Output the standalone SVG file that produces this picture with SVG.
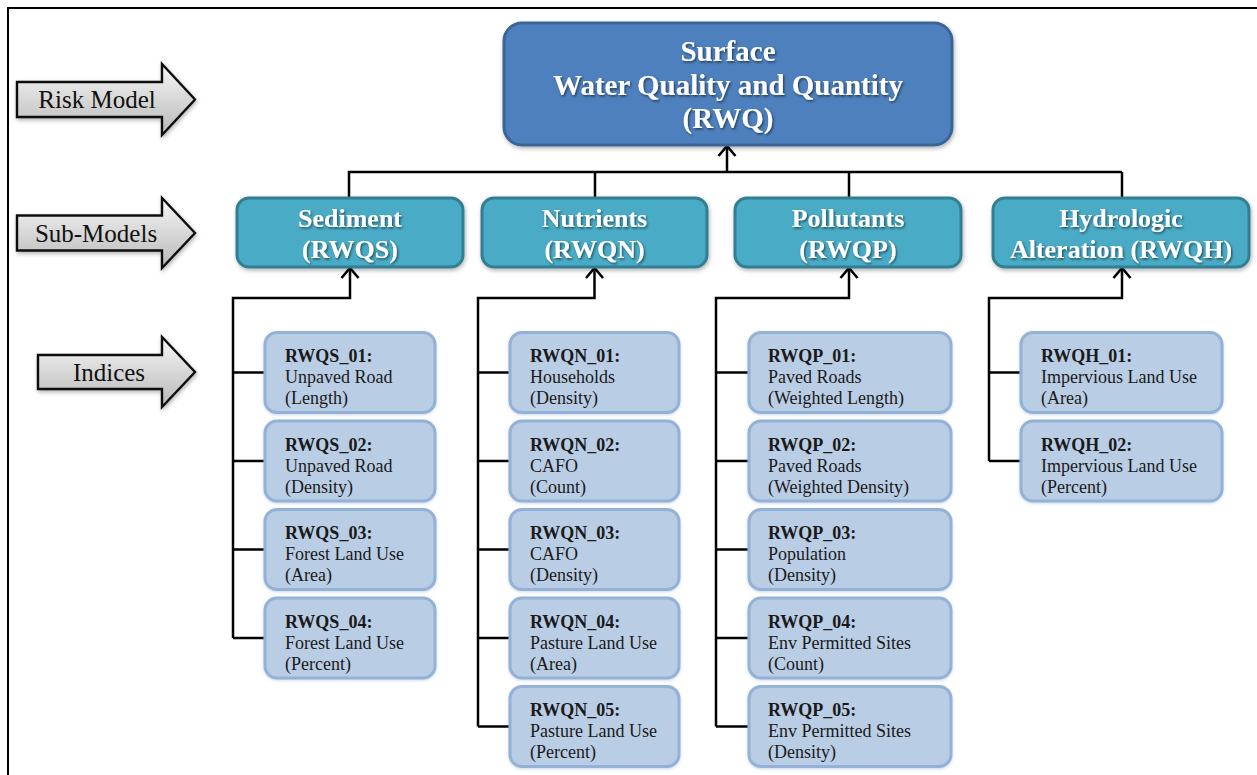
<svg xmlns="http://www.w3.org/2000/svg" width="1257" height="775" viewBox="0 0 1257 775">
<defs>
<linearGradient id="gArrow" x1="0" y1="0" x2="0" y2="1">
<stop offset="0" stop-color="#f7f7f7"/>
<stop offset="1" stop-color="#b8b8b8"/>
</linearGradient>
<filter id="fTxt" x="-10%" y="-30%" width="120%" height="160%">
<feDropShadow dx="1.2" dy="1.5" stdDeviation="0.8" flood-color="#000" flood-opacity="0.55"/>
</filter>
<filter id="fBox" x="-10%" y="-20%" width="120%" height="140%">
<feDropShadow dx="1" dy="2" stdDeviation="2" flood-color="#000" flood-opacity="0.3"/>
</filter>
<filter id="fIdx" x="-10%" y="-20%" width="120%" height="140%">
<feDropShadow dx="0" dy="1" stdDeviation="1.5" flood-color="#6a8cb8" flood-opacity="0.35"/>
</filter>
<marker id="mArr" markerUnits="userSpaceOnUse" markerWidth="13" markerHeight="20" viewBox="0 0 13 20" refX="11" refY="10" orient="auto">
<path d="M1,1.5 L11,10 L1,18.5" fill="none" stroke="#000" stroke-width="2.6"/>
</marker>
</defs>
<style>
.frame{fill:none;stroke:#000;stroke-width:2}
.lbl{fill:url(#gArrow);stroke:#111;stroke-width:2.4;stroke-linejoin:miter;filter:url(#fBox)}
.lblt{font-family:"Liberation Serif","Times New Roman",serif;font-size:25px;fill:#111;text-anchor:middle}
.top{fill:#4d80bd;stroke:#3a6597;stroke-width:3;filter:url(#fBox)}
.sub{fill:#4aabc5;stroke:#327f93;stroke-width:3;filter:url(#fBox)}
.wt{font-family:"Liberation Serif","Times New Roman",serif;font-weight:bold;fill:#fff;text-anchor:middle;filter:url(#fTxt)}
.idx{fill:#b9cde5;stroke:#94b2d8;stroke-width:3;filter:url(#fIdx)}
.it{font-family:"Liberation Serif","Times New Roman",serif;font-size:18px;fill:#1a1a1a}
.it .b{font-weight:bold}
.con{fill:none;stroke:#000;stroke-width:2.5}
</style>

<path class="frame" d="M8,775 L8,8 L1257,8"/>

<g id="label-risk-model">
<path class="lbl" d="M17,82 L162,82 L162,64 L195,99.5 L162,135 L162,117 L17,117 Z"/>
<text class="lblt" x="97" y="108">Risk Model</text>
</g>
<g id="label-sub-models">
<path class="lbl" d="M17,215.5 L162,215.5 L162,198 L195,233 L162,268 L162,250.5 L17,250.5 Z"/>
<text class="lblt" x="96" y="242">Sub-Models</text>
</g>
<g id="label-indices">
<path class="lbl" d="M38,355 L162,355 L162,337 L195,372 L162,407 L162,389 L38,389 Z"/>
<text class="lblt" x="109" y="381">Indices</text>
</g>

<g id="connectors">
<path class="con" d="M349,198 L349,172 L1122,172 M595,198 L595,172 M849,198 L849,172 M1122,198 L1122,172"/>
<path class="con" d="M727,172 L727,146" marker-end="url(#mArr)"/>
<path class="con" d="M233,638 L233,298 L350,298 L350,268" marker-end="url(#mArr)"/>
<path class="con" d="M233,372.5 L265,372.5 M233,461 L265,461 M233,549.5 L265,549.5 M233,638 L265,638"/>
<path class="con" d="M478,726.5 L478,298 L594.5,298 L594.5,268" marker-end="url(#mArr)"/>
<path class="con" d="M478,372.5 L510,372.5 M478,461 L510,461 M478,549.5 L510,549.5 M478,638 L510,638 M478,726.5 L510,726.5"/>
<path class="con" d="M716,726.5 L716,298 L849,298 L849,268" marker-end="url(#mArr)"/>
<path class="con" d="M716,372.5 L749,372.5 M716,461 L749,461 M716,549.5 L749,549.5 M716,638 L749,638 M716,726.5 L749,726.5"/>
<path class="con" d="M989,461 L989,298 L1122,298 L1122,268" marker-end="url(#mArr)"/>
<path class="con" d="M989,372.5 L1021,372.5 M989,461 L1021,461"/>
</g>

<g id="node-rwq">
<rect class="top" x="504" y="23" width="448" height="122" rx="18"/>
<text class="wt" font-size="29" x="728" y="61">Surface</text>
<text class="wt" font-size="29" x="728" y="95">Water Quality and Quantity</text>
<text class="wt" font-size="29" x="728" y="128">(RWQ)</text>
</g>

<g id="node-rwqs">
<rect class="sub" x="237" y="198" width="226" height="69" rx="12"/>
<text class="wt" font-size="26" x="350" y="227">Sediment</text>
<text class="wt" font-size="26" x="350" y="258">(RWQS)</text>
</g>
<g id="node-rwqn">
<rect class="sub" x="482" y="198" width="225" height="69" rx="12"/>
<text class="wt" font-size="26" x="594.5" y="227">Nutrients</text>
<text class="wt" font-size="26" x="594.5" y="258">(RWQN)</text>
</g>
<g id="node-rwqp">
<rect class="sub" x="735" y="198" width="226" height="69" rx="12"/>
<text class="wt" font-size="26" x="848" y="227">Pollutants</text>
<text class="wt" font-size="26" x="848" y="258">(RWQP)</text>
</g>
<g id="node-rwqh">
<rect class="sub" x="993" y="198" width="256" height="69" rx="12"/>
<text class="wt" font-size="26" x="1121" y="227">Hydrologic</text>
<text class="wt" font-size="26" x="1121" y="258">Alteration (RWQH)</text>
</g>

<g id="node-rwqs-01"><rect class="idx" x="265" y="332.5" width="170" height="80" rx="12"/>
<text class="it" x="285" y="362"><tspan class="b">RWQS_01:</tspan><tspan x="285" dy="21">Unpaved Road</tspan><tspan x="285" dy="21">(Length)</tspan></text></g>
<g id="node-rwqs-02"><rect class="idx" x="265" y="421" width="170" height="80" rx="12"/>
<text class="it" x="285" y="450.5"><tspan class="b">RWQS_02:</tspan><tspan x="285" dy="21">Unpaved Road</tspan><tspan x="285" dy="21">(Density)</tspan></text></g>
<g id="node-rwqs-03"><rect class="idx" x="265" y="509.5" width="170" height="80" rx="12"/>
<text class="it" x="285" y="539"><tspan class="b">RWQS_03:</tspan><tspan x="285" dy="21">Forest Land Use</tspan><tspan x="285" dy="21">(Area)</tspan></text></g>
<g id="node-rwqs-04"><rect class="idx" x="265" y="598" width="170" height="80" rx="12"/>
<text class="it" x="285" y="627.5"><tspan class="b">RWQS_04:</tspan><tspan x="285" dy="21">Forest Land Use</tspan><tspan x="285" dy="21">(Percent)</tspan></text></g>

<g id="node-rwqn-01"><rect class="idx" x="510" y="332.5" width="169" height="80" rx="12"/>
<text class="it" x="530" y="362"><tspan class="b">RWQN_01:</tspan><tspan x="530" dy="21">Households</tspan><tspan x="530" dy="21">(Density)</tspan></text></g>
<g id="node-rwqn-02"><rect class="idx" x="510" y="421" width="169" height="80" rx="12"/>
<text class="it" x="530" y="450.5"><tspan class="b">RWQN_02:</tspan><tspan x="530" dy="21">CAFO</tspan><tspan x="530" dy="21">(Count)</tspan></text></g>
<g id="node-rwqn-03"><rect class="idx" x="510" y="509.5" width="169" height="80" rx="12"/>
<text class="it" x="530" y="539"><tspan class="b">RWQN_03:</tspan><tspan x="530" dy="21">CAFO</tspan><tspan x="530" dy="21">(Density)</tspan></text></g>
<g id="node-rwqn-04"><rect class="idx" x="510" y="598" width="169" height="80" rx="12"/>
<text class="it" x="530" y="627.5"><tspan class="b">RWQN_04:</tspan><tspan x="530" dy="21">Pasture Land Use</tspan><tspan x="530" dy="21">(Area)</tspan></text></g>
<g id="node-rwqn-05"><rect class="idx" x="510" y="686.5" width="169" height="80" rx="12"/>
<text class="it" x="530" y="716"><tspan class="b">RWQN_05:</tspan><tspan x="530" dy="21">Pasture Land Use</tspan><tspan x="530" dy="21">(Percent)</tspan></text></g>

<g id="node-rwqp-01"><rect class="idx" x="749" y="332.5" width="202" height="80" rx="12"/>
<text class="it" x="768" y="362"><tspan class="b">RWQP_01:</tspan><tspan x="768" dy="21">Paved Roads</tspan><tspan x="768" dy="21">(Weighted Length)</tspan></text></g>
<g id="node-rwqp-02"><rect class="idx" x="749" y="421" width="202" height="80" rx="12"/>
<text class="it" x="768" y="450.5"><tspan class="b">RWQP_02:</tspan><tspan x="768" dy="21">Paved Roads</tspan><tspan x="768" dy="21">(Weighted Density)</tspan></text></g>
<g id="node-rwqp-03"><rect class="idx" x="749" y="509.5" width="202" height="80" rx="12"/>
<text class="it" x="768" y="539"><tspan class="b">RWQP_03:</tspan><tspan x="768" dy="21">Population</tspan><tspan x="768" dy="21">(Density)</tspan></text></g>
<g id="node-rwqp-04"><rect class="idx" x="749" y="598" width="202" height="80" rx="12"/>
<text class="it" x="768" y="627.5"><tspan class="b">RWQP_04:</tspan><tspan x="768" dy="21">Env Permitted Sites</tspan><tspan x="768" dy="21">(Count)</tspan></text></g>
<g id="node-rwqp-05"><rect class="idx" x="749" y="686.5" width="202" height="80" rx="12"/>
<text class="it" x="768" y="716"><tspan class="b">RWQP_05:</tspan><tspan x="768" dy="21">Env Permitted Sites</tspan><tspan x="768" dy="21">(Density)</tspan></text></g>

<g id="node-rwqh-01"><rect class="idx" x="1021" y="332.5" width="201" height="80" rx="12"/>
<text class="it" x="1041" y="362"><tspan class="b">RWQH_01:</tspan><tspan x="1041" dy="21">Impervious Land Use</tspan><tspan x="1041" dy="21">(Area)</tspan></text></g>
<g id="node-rwqh-02"><rect class="idx" x="1021" y="421" width="201" height="80" rx="12"/>
<text class="it" x="1041" y="450.5"><tspan class="b">RWQH_02:</tspan><tspan x="1041" dy="21">Impervious Land Use</tspan><tspan x="1041" dy="21">(Percent)</tspan></text></g>
</svg>
